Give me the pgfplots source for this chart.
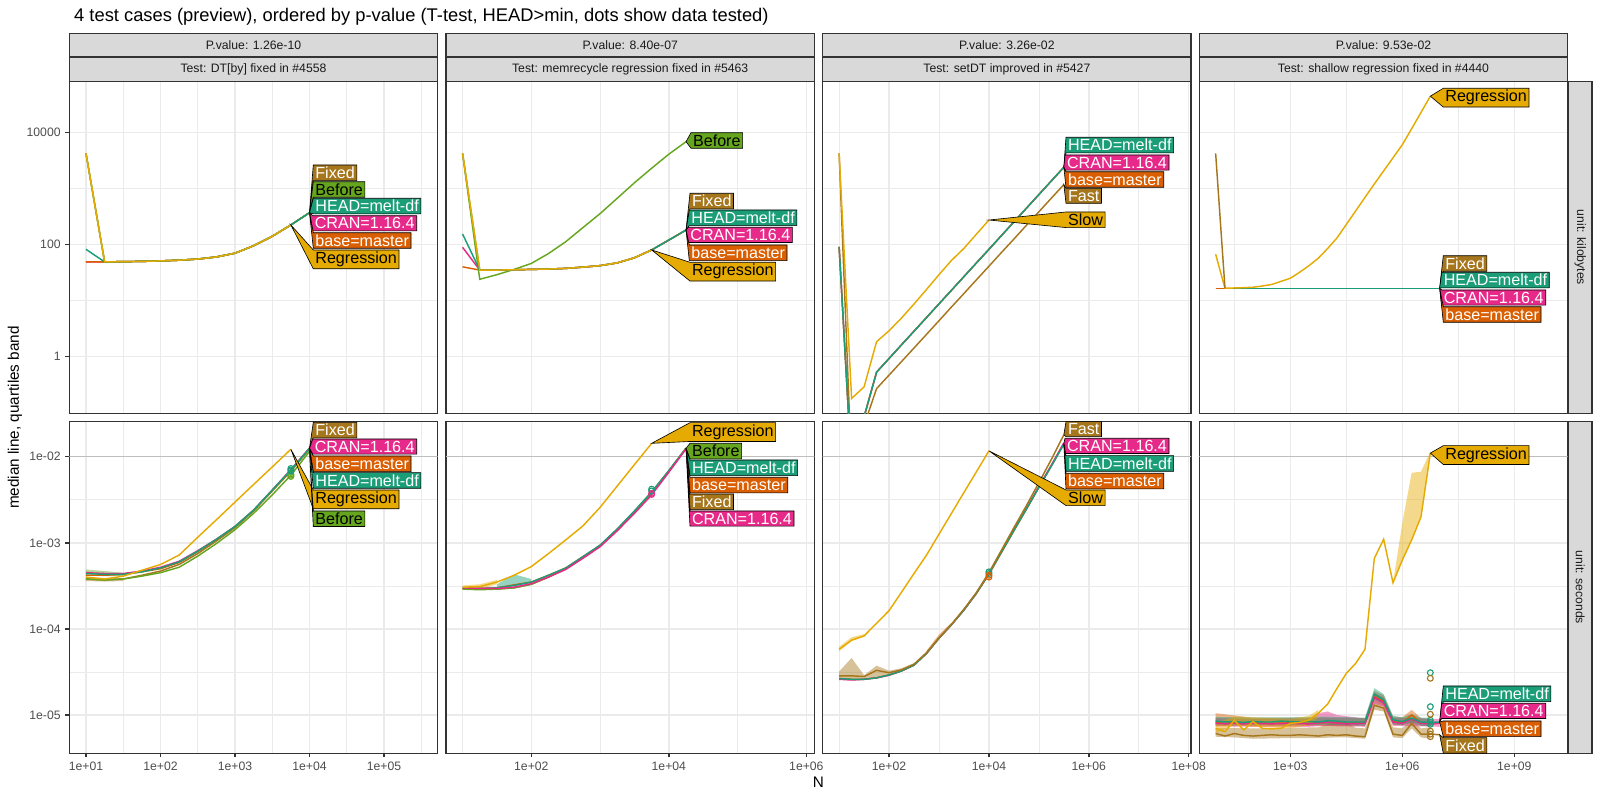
\documentclass[border=0pt]{standalone}
\usepackage{fontspec}
\setmainfont{Liberation Sans}
\usepackage{pgfplots}
\pgfplotsset{compat=1.18}

\definecolor{cHEAD}{HTML}{1B9E77}
\definecolor{cbase}{HTML}{D95F02}
\definecolor{cCRAN}{HTML}{E7298A}
\definecolor{cBefore}{HTML}{66A61E}
\definecolor{cReg}{HTML}{E6AB02}
\definecolor{cFixed}{HTML}{A6761D}
\definecolor{gg10}{HTML}{1A1A1A}
\definecolor{gg20}{HTML}{333333}
\definecolor{gg30}{HTML}{4D4D4D}
\definecolor{gg85}{HTML}{D9D9D9}
\definecolor{gg92}{HTML}{EBEBEB}
\definecolor{hl}{HTML}{BEBEBE}

\pgfplotsset{
  ggpanel/.style={
    scale only axis, width=265.25bp, height=238.75bp, anchor=south west,
    axis line style={draw=gg20, line width=1bp},
    grid=both,
    major grid style={draw=gg92, line width=1.05bp},
    minor grid style={draw=gg92, line width=0.53bp},
    minor tick length=0pt,
    major tick length=2.75bp,
    tick align=outside, tick pos=left,
    tick style={draw=gg20, line width=1bp},
    ticklabel style={font=\fontsize{8.8bp}{10bp}\selectfont, text=gg30},
    every axis plot/.append style={line width=1.05bp},
  },
  ggnotx/.style={xticklabels={}, xtick style={draw=none}},
  ggnoty/.style={yticklabels={}, ytick style={draw=none}},
  ggkb/.style={ymin=0.098, ymax=7.98e4, ytick={1,100,10000}, minor ytick={10,1000}},
  ggsec/.style={ymin=3.592e-6, ymax=0.0255, ytick={1e-5,1e-4,1e-3,1e-2}, minor ytick={3.162e-5,3.162e-4,3.162e-3}},
  ggA/.style={xmin=5.97, xmax=5.26e5, xtick={10,100,1000,10000,100000}, minor xtick={31.62,316.2,3162,31623,316228}},
  ggB/.style={xmin=5.743, xmax=1.309e6, xtick={100,10000,1000000}, minor xtick={10,1000,100000}},
  ggC/.style={xmin=4.69, xmax=1.118e8, xtick={100,1e4,1e6,1e8}, minor xtick={10,1000,1e5,1e7}},
  ggD/.style={xmin=3.652, xmax=2.69e10, xtick={1000,1e6,1e9}, minor xtick={31.62,31623,31622777}},
  ggband/.style={fill=#1, fill opacity=0.45, draw=none},
  ggdots/.style={only marks, mark=o, mark size=2.1bp, draw=#1, mark options={line width=0.8bp}},
}

\tikzset{dlab/.style={anchor=north west, inner xsep=1.5bp, inner ysep=1.35bp, outer sep=0pt,
  font=\fontsize{11.6bp}{13bp}\selectfont}}
\newcommand\dl[6]{%
  \node[dlab] (dlb) at (#2,#3) {\phantom{#6}};
  \filldraw[fill=#4, draw=black, line width=0.45bp] (#1) -- (dlb.north west) -- (dlb.north east)
    -- (dlb.south east) -- (dlb.south west) -- cycle;
  \node[dlab, text=#5] at (#2,#3) {#6};}

\begin{document}
\begin{tikzpicture}
\path[use as bounding box] (0,0) rectangle (1152bp,576bp);

% ---------------- column 1, kilobytes
\begin{axis}[xmode=log, ymode=log, ggpanel, ggA, ggkb, ggnotx, at={(49.90bp,278.42bp)}, yticklabels={1,100,10000}]
\addplot[cCRAN] coordinates {(10,49)(17.78,49)(31.62,49.5)(56.23,50)(100,51)(177.8,52.5)(316.2,55)(562.3,60)(1000,70)(1778,95)(3162,140)(5623,223)(10000,369)};
\addplot[cbase] coordinates {(10,49)(17.78,49)(31.62,49.5)(56.23,50)(100,51)(177.8,52.5)(316.2,55)(562.3,60)(1000,70)(1778,95)(3162,140)(5623,223)(10000,369)};
\addplot[cFixed] coordinates {(10,4200)(17.78,49)(31.62,49.5)(56.23,50)(100,51)(177.8,52.5)(316.2,55)(562.3,60)(1000,70)(1778,95)(3162,140)(5623,223)(10000,369)};
\addplot[cBefore] coordinates {(10,4200)(17.78,49)(31.62,49.5)(56.23,50)(100,51)(177.8,52.5)(316.2,55)(562.3,60)(1000,70)(1778,95)(3162,140)(5623,223)(10000,369)};
\addplot[cHEAD] coordinates {(10,82)(17.78,49)(31.62,49.5)(56.23,50)(100,51)(177.8,52.5)(316.2,55)(562.3,60)(1000,70)(1778,95)(3162,140)(5623,223)(10000,369)};
\addplot[cReg] coordinates {(10,4200)(17.78,49)(31.62,49.5)(56.23,50)(100,51)(177.8,52.5)(316.2,55)(562.3,60)(1000,70)(1778,95)(3162,140)(5623,223)};
\coordinate (a1) at (axis cs:10000,369);
\coordinate (a2) at (axis cs:5623,223);
\end{axis}

% ---------------- column 1, seconds
\begin{axis}[xmode=log, ymode=log, ggpanel, ggA, ggsec, at={(49.90bp,33.62bp)}, xticklabels={1e+01,1e+02,1e+03,1e+04,1e+05}, yticklabels={1e-05,1e-04,1e-03,1e-02}]
\addplot[hl, line width=1.1bp] coordinates {(1,0.01)(1e7,0.01)};
\addplot[ggband=cBefore] coordinates {(10,4.9e-4)(17.78,4.7e-4)(31.62,4.5e-4)(31.62,4.1e-4)(17.78,4.1e-4)(10,4.2e-4)};
\addplot[ggband=cFixed] coordinates {(10,4.0e-4)(17.78,3.9e-4)(31.62,3.9e-4)(31.62,3.6e-4)(17.78,3.55e-4)(10,3.6e-4)};
\addplot[cbase] coordinates {(10,4.2e-4)(17.78,4.2e-4)(31.62,4.3e-4)(56.23,4.6e-4)(100,5.0e-4)(177.8,5.9e-4)(316.2,7.9e-4)(562.3,1.08e-3)(1000,1.53e-3)(1778,2.38e-3)(3162,4.05e-3)(5623,6.9e-3)(10000,1.24e-2)};
\addplot[cCRAN] coordinates {(10,4.5e-4)(17.78,4.4e-4)(31.62,4.4e-4)(56.23,4.7e-4)(100,5.2e-4)(177.8,6.1e-4)(316.2,8.1e-4)(562.3,1.1e-3)(1000,1.55e-3)(1778,2.4e-3)(3162,4.1e-3)(5623,7.1e-3)(10000,1.26e-2)};
\addplot[cFixed] coordinates {(10,3.8e-4)(17.78,3.7e-4)(31.62,3.8e-4)(56.23,4.2e-4)(100,4.7e-4)(177.8,5.6e-4)(316.2,7.5e-4)(562.3,1.05e-3)(1000,1.5e-3)(1778,2.35e-3)(3162,4.0e-3)(5623,6.8e-3)(10000,1.23e-2)};
\addplot[cBefore] coordinates {(10,3.8e-4)(17.78,3.7e-4)(31.62,3.8e-4)(56.23,4.1e-4)(100,4.5e-4)(177.8,5.2e-4)(316.2,7.0e-4)(562.3,9.8e-4)(1000,1.42e-3)(1778,2.2e-3)(3162,3.6e-3)(5623,6.1e-3)(10000,1.15e-2)};
\addplot[cHEAD] coordinates {(10,4.4e-4)(17.78,4.3e-4)(31.62,4.3e-4)(56.23,4.6e-4)(100,5.1e-4)(177.8,6.0e-4)(316.2,8.0e-4)(562.3,1.1e-3)(1000,1.55e-3)(1778,2.4e-3)(3162,4.1e-3)(5623,7.0e-3)(10000,1.25e-2)};
\addplot[cReg] coordinates {(10,4.0e-4)(17.78,3.8e-4)(31.62,4.1e-4)(56.23,4.8e-4)(100,5.6e-4)(177.8,7.2e-4)(316.2,1.16e-3)(562.3,1.85e-3)(1000,2.97e-3)(1778,4.76e-3)(3162,7.6e-3)(5623,1.22e-2)};
\addplot[ggdots=cBefore] coordinates {(5623,6.1e-3)(5623,5.9e-3)(5623,6.3e-3)};
\addplot[ggdots=cHEAD] coordinates {(5623,7.0e-3)(5623,7.3e-3)(5623,6.8e-3)};
\coordinate (b1) at (axis cs:10000,1.25e-2);
\coordinate (b2) at (axis cs:5623,1.22e-2);
\coordinate (b3) at (axis cs:10000,1.15e-2);
\end{axis}

% ---------------- column 2, kilobytes
\begin{axis}[xmode=log, ymode=log, ggpanel, ggB, ggkb, ggnotx, ggnoty, at={(321.12bp,278.42bp)}]
\addplot[cCRAN] coordinates {(10,89)(17.78,35)(31.62,35)(56.23,35.5)(100,36)(177.8,36.5)(316.2,37.5)(562.3,39.5)(1000,42)(1778,47)(3162,58)(5623,80)(10000,120)(17783,181)};
\addplot[cbase] coordinates {(10,40)(17.78,35)(31.62,35)(56.23,35.5)(100,36)(177.8,36.5)(316.2,37.5)(562.3,39.5)(1000,42)(1778,47)(3162,58)(5623,80)(10000,120)(17783,181)};
\addplot[cFixed] coordinates {(10,4200)(17.78,35)(31.62,35)(56.23,35.5)(100,36)(177.8,36.5)(316.2,37.5)(562.3,39.5)(1000,42)(1778,47)(3162,58)(5623,80)(10000,120)(17783,181)};
\addplot[cBefore] coordinates {(10,4200)(17.78,24)(31.62,29)(56.23,36)(100,46)(177.8,69)(316.2,112)(562.3,200)(1000,355)(1778,668)(3162,1260)(5623,2290)(10000,4070)(17783,6800)};
\addplot[cHEAD] coordinates {(10,154)(17.78,35)(31.62,35)(56.23,35.5)(100,36)(177.8,36.5)(316.2,37.5)(562.3,39.5)(1000,42)(1778,47)(3162,58)(5623,80)(10000,120)(17783,181)};
\addplot[cReg] coordinates {(10,4200)(17.78,35)(31.62,35)(56.23,35.5)(100,36)(177.8,36.5)(316.2,37.5)(562.3,39.5)(1000,42)(1778,47)(3162,58)(5623,80)};
\coordinate (c1) at (axis cs:17783,6800);
\coordinate (c2) at (axis cs:17783,181);
\coordinate (c3) at (axis cs:5623,80);
\end{axis}

% ---------------- column 2, seconds
\begin{axis}[xmode=log, ymode=log, ggpanel, ggB, ggsec, ggnoty, at={(321.12bp,33.62bp)}, xticklabels={1e+02,1e+04,1e+06}]
\addplot[hl, line width=1.1bp] coordinates {(1,0.01)(1e8,0.01)};
\addplot[ggband=cHEAD] coordinates {(31.62,3.3e-4)(56.23,4.3e-4)(100,3.8e-4)(100,3.4e-4)(56.23,3.1e-4)(31.62,3.0e-4)};
\addplot[ggband=cReg] coordinates {(10,3.2e-4)(17.78,3.3e-4)(31.62,3.7e-4)(31.62,3.3e-4)(17.78,2.9e-4)(10,2.9e-4)};
\addplot[cbase] coordinates {(10,3.0e-4)(17.78,2.95e-4)(31.62,3.0e-4)(56.23,3.25e-4)(100,3.5e-4)(177.8,4.2e-4)(316.2,5.1e-4)(562.3,6.9e-4)(1000,9.3e-4)(1778,1.43e-3)(3162,2.32e-3)(5623,3.85e-3)(10000,6.9e-3)(17783,1.25e-2)};
\addplot[cFixed] coordinates {(10,2.9e-4)(17.78,2.9e-4)(31.62,2.9e-4)(56.23,3.0e-4)(100,3.3e-4)(177.8,4.0e-4)(316.2,5.0e-4)(562.3,6.8e-4)(1000,9.3e-4)(1778,1.43e-3)(3162,2.3e-3)(5623,3.8e-3)(10000,6.8e-3)(17783,1.26e-2)};
\addplot[cBefore] coordinates {(10,2.9e-4)(17.78,2.85e-4)(31.62,2.9e-4)(56.23,3.0e-4)(100,3.3e-4)(177.8,4.0e-4)(316.2,5.0e-4)(562.3,6.8e-4)(1000,9.3e-4)(1778,1.43e-3)(3162,2.3e-3)(5623,3.8e-3)(10000,6.8e-3)(17783,1.26e-2)};
\addplot[cHEAD] coordinates {(10,3.0e-4)(17.78,2.95e-4)(31.62,3.0e-4)(56.23,3.2e-4)(100,3.5e-4)(177.8,4.2e-4)(316.2,5.1e-4)(562.3,6.9e-4)(1000,9.4e-4)(1778,1.45e-3)(3162,2.35e-3)(5623,3.9e-3)(10000,6.9e-3)(17783,1.25e-2)};
\addplot[cCRAN] coordinates {(10,3.0e-4)(17.78,2.95e-4)(31.62,2.95e-4)(56.23,3.05e-4)(100,3.35e-4)(177.8,4.0e-4)(316.2,4.9e-4)(562.3,6.6e-4)(1000,9.0e-4)(1778,1.38e-3)(3162,2.2e-3)(5623,3.6e-3)(10000,6.6e-3)(17783,1.23e-2)};
\addplot[cReg] coordinates {(10,3.05e-4)(17.78,3.1e-4)(31.62,3.5e-4)(56.23,4.2e-4)(100,5.3e-4)(177.8,7.5e-4)(316.2,1.08e-3)(562.3,1.57e-3)(1000,2.58e-3)(1778,4.57e-3)(3162,8.1e-3)(5623,1.43e-2)};
\addplot[ggdots=cHEAD] coordinates {(5623,4.0e-3)(5623,4.2e-3)};
\addplot[ggdots=cCRAN] coordinates {(5623,3.65e-3)(5623,3.75e-3)};
\coordinate (d1) at (axis cs:5623,1.43e-2);
\coordinate (d2) at (axis cs:17783,1.25e-2);
\end{axis}

% ---------------- column 3, kilobytes
\begin{axis}[xmode=log, ymode=log, ggpanel, ggC, ggkb, ggnotx, ggnoty, at={(592.34bp,278.42bp)}]
\addplot[cCRAN] coordinates {(10,91)(17.78,0.01)(31.62,0.085)(56.23,0.53)(100,0.93)(177.8,1.63)(316.2,2.85)(562.3,4.99)(1000,8.75)(1778,15.3)(3162,26.8)(5623,47)(10000,82)(17783,144)(31623,253)(56234,443)(1e5,776)(177828,1360)(316228,2380)};
\addplot[cbase] coordinates {(10,91)(17.78,0.01)(31.62,0.085)(56.23,0.53)(100,0.93)(177.8,1.63)(316.2,2.85)(562.3,4.99)(1000,8.75)(1778,15.3)(3162,26.8)(5623,47)(10000,82)(17783,144)(31623,253)(56234,443)(1e5,776)(177828,1360)(316228,2380)};
\addplot[cFixed] coordinates {(10,4200)(17.78,0.01)(31.62,0.06)(56.23,0.27)(100,0.47)(177.8,0.82)(316.2,1.43)(562.3,2.5)(1000,4.38)(1778,7.7)(3162,13.4)(5623,23.5)(10000,41)(17783,72)(31623,125)(56234,220)(1e5,383)(177828,670)(316228,1170)};
\addplot[cHEAD] coordinates {(10,91)(17.78,0.01)(31.62,0.085)(56.23,0.53)(100,0.93)(177.8,1.63)(316.2,2.85)(562.3,4.99)(1000,8.75)(1778,15.3)(3162,26.8)(5623,47)(10000,82)(17783,144)(31623,253)(56234,443)(1e5,776)(177828,1360)(316228,2380)};
\addplot[cReg] coordinates {(10,4200)(17.78,0.18)(31.62,0.29)(56.23,1.85)(100,2.9)(177.8,4.9)(316.2,8.7)(562.3,15.8)(1000,29)(1778,52)(3162,85.5)(5623,153)(10000,273)};
\coordinate (e1) at (axis cs:316228,2380);
\coordinate (e2) at (axis cs:316228,1170);
\coordinate (e3) at (axis cs:10000,273);
\end{axis}

% ---------------- column 3, seconds
\begin{axis}[xmode=log, ymode=log, ggpanel, ggC, ggsec, ggnoty, at={(592.34bp,33.62bp)}, xticklabels={1e+02,1e+04,1e+06,1e+08}]
\addplot[hl, line width=1.1bp] coordinates {(1,0.01)(1e9,0.01)};
\addplot[ggband=cFixed] coordinates {(10,3.2e-5)(17.78,4.6e-5)(31.62,2.9e-5)(56.23,3.74e-5)(100,3.27e-5)(177.8,3.5e-5)(316.2,4.0e-5)(316.2,3.8e-5)(177.8,3.25e-5)(100,2.9e-5)(56.23,2.65e-5)(31.62,2.6e-5)(17.78,2.6e-5)(10,2.6e-5)};
\addplot[ggband=cReg] coordinates {(10,6.2e-5)(17.78,8.0e-5)(31.62,8.7e-5)(31.62,8.1e-5)(17.78,7.2e-5)(10,5.5e-5)};
\addplot[ggband=cbase] coordinates {(562.3,5.6e-5)(1000,8.6e-5)(1778,1.18e-4)(1778,1.1e-4)(1000,7.6e-5)(562.3,5.0e-5)};
\addplot[cbase] coordinates {(10,2.65e-5)(17.78,2.6e-5)(31.62,2.6e-5)(56.23,2.7e-5)(100,2.92e-5)(177.8,3.25e-5)(316.2,3.8e-5)(562.3,5.2e-5)(1000,7.8e-5)(1778,1.12e-4)(3162,1.66e-4)(5623,2.6e-4)(10000,4.3e-4)(17783,7.7e-4)(31623,1.38e-3)(56234,2.45e-3)(1e5,4.4e-3)(177828,7.8e-3)(316228,1.42e-2)};
\addplot[cCRAN] coordinates {(10,2.6e-5)(17.78,2.55e-5)(31.62,2.6e-5)(56.23,2.7e-5)(100,2.9e-5)(177.8,3.25e-5)(316.2,3.8e-5)(562.3,5.2e-5)(1000,7.8e-5)(1778,1.12e-4)(3162,1.66e-4)(5623,2.6e-4)(10000,4.4e-4)(17783,7.9e-4)(31623,1.42e-3)(56234,2.5e-3)(1e5,4.5e-3)(177828,8.0e-3)(316228,1.45e-2)};
\addplot[cHEAD] coordinates {(10,2.65e-5)(17.78,2.6e-5)(31.62,2.6e-5)(56.23,2.7e-5)(100,2.92e-5)(177.8,3.25e-5)(316.2,3.8e-5)(562.3,5.2e-5)(1000,7.8e-5)(1778,1.12e-4)(3162,1.66e-4)(5623,2.6e-4)(10000,4.4e-4)(17783,7.8e-4)(31623,1.39e-3)(56234,2.47e-3)(1e5,4.4e-3)(177828,7.8e-3)(316228,1.39e-2)};
\addplot[cFixed] coordinates {(10,2.85e-5)(17.78,2.85e-5)(31.62,2.8e-5)(56.23,3.3e-5)(100,3.1e-5)(177.8,3.35e-5)(316.2,3.9e-5)(562.3,5.3e-5)(1000,7.9e-5)(1778,1.13e-4)(3162,1.7e-4)(5623,2.65e-4)(10000,4.5e-4)(17783,8.2e-4)(31623,1.5e-3)(56234,2.7e-3)(1e5,5.0e-3)(177828,9.3e-3)(316228,1.8e-2)};
\addplot[cReg] coordinates {(10,5.8e-5)(17.78,7.4e-5)(31.62,8.3e-5)(56.23,1.16e-4)(100,1.63e-4)(177.8,2.67e-4)(316.2,4.4e-4)(562.3,7.2e-4)(1000,1.26e-3)(1778,2.2e-3)(3162,3.85e-3)(5623,6.7e-3)(10000,1.17e-2)};
\addplot[ggdots=cHEAD] coordinates {(10000,4.6e-4)(10000,4.4e-4)};
\addplot[ggdots=cbase] coordinates {(10000,4.2e-4)(10000,4.0e-4)};
\coordinate (f1) at (axis cs:316228,1.8e-2);
\coordinate (f2) at (axis cs:316228,1.42e-2);
\coordinate (f3) at (axis cs:10000,1.17e-2);
\end{axis}

% ---------------- column 4, kilobytes
\begin{axis}[xmode=log, ymode=log, ggpanel, ggD, ggkb, ggnotx, ggnoty, at={(863.50bp,278.42bp)}]
\addplot[cCRAN] coordinates {(10,16.6)(17.78,16.6)(100,16.6)(1000,16.6)(1e4,16.6)(1e5,16.6)(1e6,16.6)(1e7,16.6)};
\addplot[cbase] coordinates {(10,16.6)(17.78,16.6)(100,16.6)(1000,16.6)(1e4,16.6)(1e5,16.6)(1e6,16.6)(1e7,16.6)};
\addplot[cHEAD] coordinates {(17.78,16.6)(100,16.6)(1000,16.6)(1e4,16.6)(1e5,16.6)(1e6,16.6)(1e7,16.6)};
\addplot[cReg] coordinates {(10,67)(17.78,16.6)(31.62,16.8)(56.23,17)(100,17.3)(177.8,18.2)(316.2,19.4)(562.3,22)(1000,25)(1778,32)(3162,42)(5623,57)(10000,85)(17783,131)(31623,228)(56234,397)(1e5,692)(177828,1200)(316228,2050)(562341,3510)(1e6,6010)(1778279,11600)(3162278,22600)(5623413,44100)};
\addplot[cFixed] coordinates {(10,4200)(17.78,16.6)};
\coordinate (g1) at (axis cs:5623413,44100);
\coordinate (g2) at (axis cs:1e7,16.6);
\end{axis}

% ---------------- column 4, seconds
\begin{axis}[xmode=log, ymode=log, ggpanel, ggD, ggsec, ggnoty, at={(863.50bp,33.62bp)}, xticklabels={1e+03,1e+06,1e+09}]
\addplot[hl, line width=1.1bp] coordinates {(1,0.01)(1e11,0.01)};
\addplot[ggband=cFixed] coordinates {(10,7.0e-6)(31.62,7.1e-6)(100,7.0e-6)(1000,7.1e-6)(5623,7.2e-6)(17783,8.5e-6)(31623,8.3e-6)(56234,7.1e-6)(1e5,7.0e-6)(177828,1.45e-5)(316228,1.35e-5)(562341,7.2e-6)(1e6,7.0e-6)(1778279,9.0e-6)(3162278,7.0e-6)(5623413,7.2e-6)(5623413,5.3e-6)(3162278,5.5e-6)(1778279,7.0e-6)(1e6,5.4e-6)(562341,5.5e-6)(316228,1.1e-5)(177828,1.15e-5)(1e5,5.3e-6)(56234,5.4e-6)(31623,5.5e-6)(17783,5.5e-6)(5623,5.4e-6)(1000,5.4e-6)(100,5.3e-6)(31.62,5.5e-6)(10,5.6e-6)};
\addplot[ggband=cbase] coordinates {(10,1.05e-5)(100,9.3e-6)(1e4,9.3e-6)(1e5,9.2e-6)(177828,1.9e-5)(316228,1.7e-5)(562341,9.6e-6)(1e6,9.4e-6)(1778279,1.15e-5)(3162278,9.2e-6)(5623413,9.0e-6)(5623413,7.4e-6)(3162278,7.5e-6)(1778279,8.2e-6)(1e6,7.6e-6)(562341,7.7e-6)(316228,1.3e-5)(177828,1.45e-5)(1e5,7.5e-6)(1e4,7.5e-6)(100,7.5e-6)(10,7.4e-6)};
\addplot[ggband=cCRAN] coordinates {(10,9.2e-6)(100,9.0e-6)(3162,9.1e-6)(5623,1.05e-5)(10000,1.1e-5)(17783,1.0e-5)(1e5,9.1e-6)(177828,1.8e-5)(316228,1.6e-5)(562341,9.3e-6)(1e7,9.0e-6)(1e7,7.3e-6)(562341,7.5e-6)(316228,1.25e-5)(177828,1.35e-5)(1e5,7.3e-6)(17783,7.4e-6)(10000,7.5e-6)(5623,7.4e-6)(3162,7.3e-6)(100,7.3e-6)(10,7.4e-6)};
\addplot[ggband=cHEAD] coordinates {(10,9.5e-6)(100,9.4e-6)(1000,9.4e-6)(1e4,9.6e-6)(1e5,9.3e-6)(177828,2.05e-5)(316228,1.75e-5)(562341,9.8e-6)(1e6,9.4e-6)(1778279,1.02e-5)(3162278,9.3e-6)(5623413,9.3e-6)(5623413,7.5e-6)(3162278,7.5e-6)(1778279,8.2e-6)(1e6,7.6e-6)(562341,7.8e-6)(316228,1.35e-5)(177828,1.5e-5)(1e5,7.5e-6)(1e4,7.7e-6)(1000,7.6e-6)(100,7.6e-6)(10,7.6e-6)};
\addplot[ggband=cReg] coordinates {(10,8.0e-6)(31.62,9.6e-6)(100,9.4e-6)(1000,9.0e-6)(3162,9.8e-6)(5623,1.15e-5)(5623,9.5e-6)(3162,7.6e-6)(1000,7.0e-6)(100,7.3e-6)(31.62,7.6e-6)(10,6.2e-6)};
\addplot[ggband=cReg] coordinates {(562341,3.44e-4)(1e6,1.7e-3)(1778279,6.5e-3)(3162278,6.7e-3)(5623413,1.15e-2)(5623413,1.1e-2)(3162278,2.0e-3)(1778279,1.08e-3)(1e6,6.3e-4)(562341,3.44e-4)};
\addplot[cbase] coordinates {(10,8.2e-6)(17.78,8.0e-6)(31.62,8.1e-6)(56.23,8.0e-6)(100,8.1e-6)(316.2,8.0e-6)(1000,8.1e-6)(3162,8.0e-6)(1e4,8.2e-6)(31623,8.0e-6)(1e5,8.1e-6)(177828,1.65e-5)(316228,1.45e-5)(562341,8.5e-6)(1e6,8.2e-6)(1778279,1.0e-5)(3162278,8.1e-6)(5623413,8.0e-6)(1e7,8.1e-6)};
\addplot[cCRAN] coordinates {(10,8.0e-6)(17.78,7.9e-6)(31.62,8.0e-6)(56.23,7.9e-6)(100,8.0e-6)(316.2,7.9e-6)(1000,8.0e-6)(3162,7.9e-6)(1e4,8.3e-6)(31623,7.9e-6)(1e5,8.0e-6)(177828,1.6e-5)(316228,1.4e-5)(562341,8.3e-6)(1e6,8.0e-6)(1778279,9.0e-6)(3162278,8.0e-6)(5623413,7.9e-6)(1e7,8.0e-6)};
\addplot[cHEAD] coordinates {(10,8.5e-6)(17.78,8.3e-6)(31.62,8.4e-6)(56.23,8.2e-6)(100,8.4e-6)(177.8,8.3e-6)(316.2,8.3e-6)(562.3,8.5e-6)(1000,8.4e-6)(1778,8.3e-6)(3162,8.4e-6)(5623,8.3e-6)(1e4,8.6e-6)(17783,8.5e-6)(31623,8.3e-6)(56234,8.3e-6)(1e5,8.3e-6)(177828,1.75e-5)(316228,1.5e-5)(562341,8.8e-6)(1e6,8.4e-6)(1778279,9.2e-6)(3162278,8.3e-6)(5623413,8.2e-6)(1e7,8.3e-6)};
\addplot[cFixed] coordinates {(10,6.1e-6)(17.78,5.7e-6)(31.62,6.1e-6)(56.23,5.8e-6)(100,5.7e-6)(177.8,5.8e-6)(316.2,5.9e-6)(562.3,5.8e-6)(1000,5.8e-6)(1778,5.9e-6)(3162,5.8e-6)(5623,5.7e-6)(1e4,5.9e-6)(17783,5.8e-6)(31623,5.9e-6)(56234,5.7e-6)(1e5,5.6e-6)(177828,1.3e-5)(316228,1.2e-5)(562341,6.0e-6)(1e6,5.8e-6)(1778279,8.0e-6)(3162278,6.0e-6)(5623413,6.0e-6)(1e7,5.9e-6)};
\addplot[cReg] coordinates {(10,7.0e-6)(17.78,6.4e-6)(31.62,8.7e-6)(56.23,6.7e-6)(100,8.4e-6)(177.8,7.0e-6)(316.2,6.9e-6)(562.3,7.0e-6)(1000,8.0e-6)(1778,8.2e-6)(3162,8.7e-6)(5623,1.05e-5)(10000,1.34e-5)(17783,2.04e-5)(31623,3.05e-5)(56234,3.98e-5)(1e5,5.8e-5)(177828,6.6e-4)(316228,1.1e-3)(562341,3.44e-4)(1e6,6.3e-4)(1778279,1.08e-3)(3162278,2.0e-3)(5623413,1.1e-2)};
\addplot[ggdots=cHEAD] coordinates {(5623413,3.1e-5)(5623413,1.25e-5)(5623413,8.7e-6)(5623413,8.2e-6)(5623413,7.8e-6)};
\addplot[ggdots=cFixed] coordinates {(5623413,2.67e-5)(5623413,1.02e-5)(5623413,6.5e-6)(5623413,6.0e-6)(5623413,5.6e-6)};
\coordinate (h1) at (axis cs:5623413,1.1e-2);
\coordinate (h2) at (axis cs:1e7,8.3e-6);
\coordinate (h3) at (axis cs:1e7,5.9e-6);
\end{axis}

% ---------------- strips, titles and direct labels (pixel coordinates)
\begin{scope}[x=0.72bp, y=-0.72bp, shift={(0,576bp)}]
\tikzset{strip/.style={fill=gg85, draw=gg20, line width=1bp},
  stext/.style={font=\fontsize{8.8bp}{10bp}\selectfont, text=gg10}}
\foreach \L/\pv/\tt in {69.3/{P.value: 1.26e-10}/{Test: DT[by] fixed in \#4558},
    446.0/{P.value: 8.40e-07}/{Test: memrecycle regression fixed in \#5463},
    822.7/{P.value: 3.26e-02}/{Test: setDT improved in \#5427},
    1199.3/{P.value: 9.53e-02}/{Test: shallow regression fixed in \#4440}} {
  \draw[strip] (\L,33.3) rectangle ({\L+368.4},56.7);
  \draw[strip] (\L,57.7) rectangle ({\L+368.4},81.7);
  \node[stext] at ({\L+184.2},45) {\pv};
  \node[stext] at ({\L+184.2},69.7) {\tt};
}
\draw[strip] (1568.7,81.7) rectangle (1592,413.3);
\draw[strip] (1568.7,421.7) rectangle (1592,753.3);
\node[stext, rotate=-90] at (1580.3,247.5) {unit: kilobytes};
\node[stext, rotate=-90] at (1580.3,587.5) {unit: seconds};

\node[anchor=base west, font=\fontsize{13.2bp}{15bp}\selectfont] at (69.3,22) {4 test cases (preview), ordered by p-value (T-test, HEAD>min, dots show data tested)};
\node[rotate=90, font=\fontsize{11bp}{13bp}\selectfont] at (15,417.5) {median line, quartiles band};
\node[anchor=base, font=\fontsize{11bp}{13bp}\selectfont] at (818.5,787.3) {N};

% column 1
\dl{a1}{313.3}{165}{cFixed}{white}{Fixed}
\dl{a1}{313.3}{181.7}{cBefore}{black}{Before}
\dl{a1}{313.3}{198.3}{cHEAD}{white}{HEAD=melt-df}
\dl{a1}{312.7}{215.7}{cCRAN}{white}{CRAN=1.16.4}
\dl{a1}{313.3}{232.7}{cbase}{white}{base=master}
\dl{a2}{313.3}{250}{cReg}{black}{Regression}
\dl{b1}{313.3}{422.3}{cFixed}{white}{Fixed}
\dl{b1}{312.7}{439}{cCRAN}{white}{CRAN=1.16.4}
\dl{b1}{313.3}{456}{cbase}{white}{base=master}
\dl{b1}{313.3}{472.7}{cHEAD}{white}{HEAD=melt-df}
\dl{b2}{313.3}{490}{cReg}{black}{Regression}
\dl{b3}{313.3}{511}{cBefore}{black}{Before}
% column 2
\dl{c1}{691}{132.7}{cBefore}{black}{Before}
\dl{c2}{690}{193.3}{cFixed}{white}{Fixed}
\dl{c2}{689.3}{210}{cHEAD}{white}{HEAD=melt-df}
\dl{c2}{688.3}{227.3}{cCRAN}{white}{CRAN=1.16.4}
\dl{c2}{689.3}{245}{cbase}{white}{base=master}
\dl{c3}{690}{262.3}{cReg}{black}{Regression}
\dl{d1}{690}{422.7}{cReg}{black}{Regression}
\dl{d2}{690}{443.3}{cBefore}{black}{Before}
\dl{d2}{690}{460}{cHEAD}{white}{HEAD=melt-df}
\dl{d2}{690}{477.3}{cbase}{white}{base=master}
\dl{d2}{690}{494}{cFixed}{white}{Fixed}
\dl{d2}{690}{511}{cCRAN}{white}{CRAN=1.16.4}
% column 3
\dl{e1}{1066}{137.3}{cHEAD}{white}{HEAD=melt-df}
\dl{e1}{1065}{155}{cCRAN}{white}{CRAN=1.16.4}
\dl{e1}{1066}{171.7}{cbase}{white}{base=master}
\dl{e2}{1066}{188.3}{cFixed}{white}{Fast}
\dl{e3}{1066}{212}{cReg}{black}{Slow}
\dl{f1}{1066}{421.7}{cFixed}{white}{Fast}
\dl{f2}{1065}{438.3}{cCRAN}{white}{CRAN=1.16.4}
\dl{f2}{1066}{455.7}{cHEAD}{white}{HEAD=melt-df}
\dl{f2}{1066}{473.3}{cbase}{white}{base=master}
\dl{f3}{1066}{490}{cReg}{black}{Slow}
% column 4
\dl{g1}{1443.3}{88.3}{cReg}{black}{Regression}
\dl{g2}{1443.3}{255.7}{cFixed}{white}{Fixed}
\dl{g2}{1441.7}{272.3}{cHEAD}{white}{HEAD=melt-df}
\dl{g2}{1441.7}{290}{cCRAN}{white}{CRAN=1.16.4}
\dl{g2}{1443.3}{306.7}{cbase}{white}{base=master}
\dl{h1}{1443.3}{445.7}{cReg}{black}{Regression}
\dl{h2}{1443.3}{686}{cHEAD}{white}{HEAD=melt-df}
\dl{h2}{1441.7}{703.3}{cCRAN}{white}{CRAN=1.16.4}
\dl{h2}{1443.3}{721}{cbase}{white}{base=master}
\dl{h3}{1443.3}{737.7}{cFixed}{white}{Fixed}
\end{scope}
\end{tikzpicture}
\end{document}
